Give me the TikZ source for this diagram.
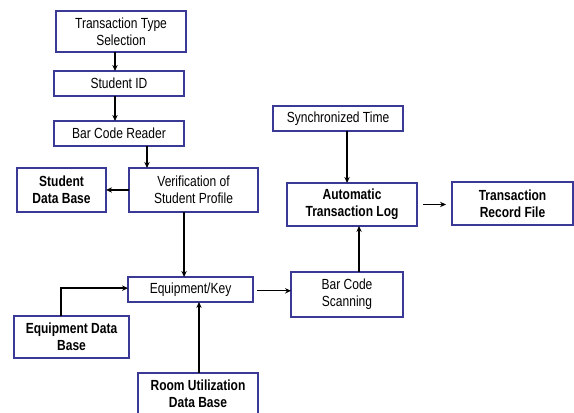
\documentclass[tikz,border=0pt]{standalone}
\usepackage{fontspec}
\setmainfont{Liberation Sans}[FakeStretch=0.82]
\usepackage{xcolor}
\usetikzlibrary{arrows.meta,positioning,calc}
\definecolor{boxblue}{RGB}{58,58,150}

\begin{document}
\begin{tikzpicture}[
    font=\fontsize{11}{13}\selectfont,
    box/.style={rectangle, draw=boxblue, line width=1.1pt, outer sep=0pt, align=center, fill=white, inner sep=1pt},
    boldbox/.style={box, font=\fontsize{11}{13}\selectfont\bfseries},
    arrow/.style={-{Stealth[length=4.5pt,width=4pt]}, line width=1pt, black}
]
    \useasboundingbox (0,0) rectangle (430.5pt,-309pt);

    % Student track
    \node[box, minimum width=97.5pt, minimum height=30.75pt] (tts) at (90.75pt,-23.6pt) {Transaction Type\\Selection};
    \node[box, minimum width=97.5pt, minimum height=18.75pt, below=14.25pt of tts, xshift=-1.5pt] (sid) {Student ID};
    \node[box, minimum width=97.5pt, minimum height=18.75pt, below=18.75pt of sid] (bcr) {Bar Code Reader};
    \node[box, minimum width=96.75pt, minimum height=33pt, below=16.5pt of bcr, xshift=55.9pt] (ver) {Verification of\\Student Profile};
    \node[boldbox, minimum width=66.75pt, minimum height=33pt, left=17.25pt of ver] (sdb) {Student\\Data Base};

    % Equipment track
    \node[box, minimum width=93.75pt, minimum height=18.75pt, below=48.75pt of ver, xshift=-2.25pt] (eqk) {Equipment/Key};
    \node[boldbox, minimum width=86.25pt, minimum height=31.5pt, below=10.5pt of eqk, xshift=-89.25pt] (edb) {Equipment Data\\Base};
    \node[boldbox, minimum width=90pt, minimum height=31.5pt, below=53.25pt of eqk, xshift=5.6pt] (rudb) {Room Utilization\\Data Base};

    % Logging track
    \node[box, minimum width=84pt, minimum height=33.75pt, right=28.5pt of eqk, yshift=-3.75pt] (bcs) {Bar Code\\Scanning};
    \node[boldbox, minimum width=97.5pt, minimum height=32.25pt, above=34.5pt of bcs, xshift=3.75pt] (atl) {Automatic\\Transaction Log};
    \node[box, minimum width=97.5pt, minimum height=18.75pt, above=39pt of atl, xshift=-10.5pt] (st) {Synchronized Time};
    \node[boldbox, minimum width=90.75pt, minimum height=32.25pt, right=26.25pt of atl, yshift=0.75pt] (trf) {Transaction\\Record File};

    % Connectors
    \draw[arrow] ([xshift=-3pt]sid.north |- tts.south) -- ([xshift=-3pt]sid.north);
    \draw[arrow] ([xshift=-3pt]sid.south) -- ([xshift=-3pt]bcr.north);
    \draw[arrow] ([xshift=21pt]bcr.south) -- ([xshift=21pt]bcr.south |- ver.north);
    \draw[arrow] (ver.west) -- (sdb.east);
    \draw[arrow] ([xshift=-7.1pt]ver.south) -- ([xshift=-7.1pt]ver.south |- eqk.north);
    \draw[arrow] ([xshift=-7.9pt]edb.north) |- ([yshift=1pt]eqk.west);
    \draw[arrow] ([xshift=0.75pt]rudb.north) -- ([xshift=0.75pt]rudb.north |- eqk.south);
    \draw[arrow, shorten <=3pt] ([yshift=-1pt]eqk.east) -- ([yshift=-1pt]eqk.east -| bcs.west);
    \draw[arrow] ([xshift=9pt]bcs.north) -- ([xshift=9pt]bcs.north |- atl.south);
    \draw[arrow] ([xshift=6.75pt]st.south) -- ([xshift=6.75pt]st.south |- atl.north);
    \draw[arrow, shorten <=4.5pt, shorten >=4.5pt] (atl.east) -- (atl.east -| trf.west);
\end{tikzpicture}
\end{document}
